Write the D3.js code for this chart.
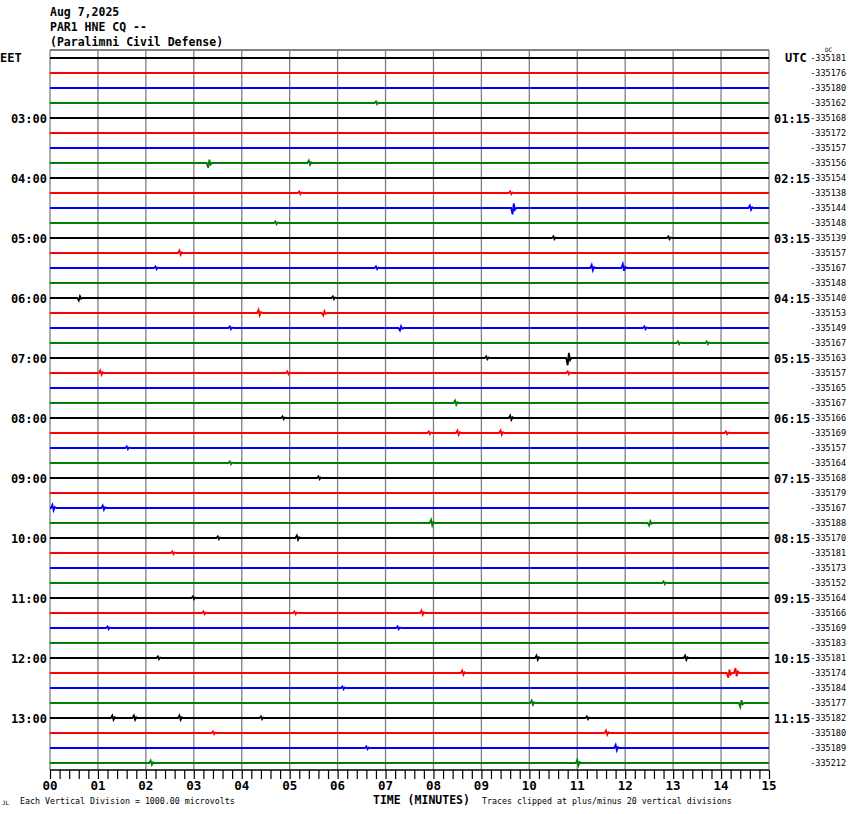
<!DOCTYPE html>
<html><head><meta charset="utf-8">
<script src="https://cdn.jsdelivr.net/npm/d3@7"></script>
<style>body{margin:0;background:#fff}svg{display:block}</style>
</head><body>
<script>
// ---------- DATA ----------
const titleLines = ["Aug 7,2025", "PAR1 HNE CQ --", "(Paralimni Civil Defense)"];
const leftTimes = ["03:00","04:00","05:00","06:00","07:00","08:00","09:00","10:00","11:00","12:00","13:00"];
const rightTimes = ["01:15","02:15","03:15","04:15","05:15","06:15","07:15","08:15","09:15","10:15","11:15"];
const dcValues = [-335181,-335176,-335180,-335162,-335168,-335172,-335157,-335156,
  -335154,-335138,-335144,-335148,-335139,-335157,-335167,-335148,
  -335140,-335153,-335149,-335167,-335163,-335157,-335165,-335167,
  -335166,-335169,-335157,-335164,-335168,-335179,-335167,-335188,
  -335170,-335181,-335173,-335152,-335164,-335166,-335169,-335183,
  -335181,-335174,-335184,-335177,-335182,-335180,-335189,-335212];
const minuteLabels = ["00","01","02","03","04","05","06","07","08","09","10","11","12","13","14","15"];
const traceColors = ["#000000","#ff0000","#0000ff","#007f00"];
// events: [row, minute, amplitude in vertical divisions (+ up)]
const events = [
  [3,6.8,1],[7,3.3,-3],[7,5.4,1.5],[9,5.2,1],[9,9.6,1],[10,9.65,-4],[10,14.6,1.5],[11,4.7,1],
  [12,10.5,1],[12,12.9,1],[13,2.7,1.5],[14,2.2,1],[14,6.8,1],[14,11.3,2],[14,11.95,2.5],
  [16,0.6,-1.5],[16,5.9,1],[17,4.35,2],[17,5.7,-1.5],[18,3.75,1],[18,7.3,-1.5],[18,12.4,1],
  [19,13.1,1],[19,13.7,1],[20,10.8,-4.5],[20,9.1,1],[21,1.05,1.5],[21,4.95,1],[21,10.8,1],
  [23,8.45,1.5],[24,4.85,1],[24,9.6,1.5],[25,7.9,1],[25,8.5,1.5],[25,9.4,1.5],[25,14.1,1],
  [26,1.6,1],[27,3.75,1],[28,5.6,1],[30,0.05,2],[30,1.1,1.5],[31,7.95,2],[31,12.5,-1.5],
  [32,3.5,1],[32,5.15,1.5],[33,2.55,1],[35,12.8,1],[36,2.98,1],[37,3.2,1],[37,5.1,1],[37,7.75,1.5],
  [38,1.2,1],[38,7.25,1],[40,2.25,1],[40,10.15,1.5],[40,13.25,1.5],[41,8.6,1.5],[41,14.15,-3],[41,14.3,3],
  [42,6.1,1],[43,10.05,1.5],[43,14.4,-2.5],[44,1.3,1.5],[44,1.75,1.5],[44,2.7,1.5],[44,4.4,1],[44,11.2,1],
  [45,3.4,1],[45,11.6,1.5],[46,6.6,1],[46,11.8,2],[47,2.1,1.5],[47,11.0,2]
];

// ---------- CHART ----------
const W = 850, H = 814;
const svg = d3.select("body").append("svg").attr("width", W).attr("height", H);
const nRows = dcValues.length;
const x = d3.scaleLinear().domain([0, 15]).range([50, 769]);
const y = d3.scaleLinear().domain([0, nRows - 1]).range([58, 763]);
const amp = d3.scaleLinear().domain([0, 1]).range([0, 1.6]); // px per division

const mono = "'DejaVu Sans Mono', monospace";

// title
svg.append("g").selectAll("text").data(titleLines).join("text")
  .attr("x", 50).attr("y", (d, i) => 16 + i * 15)
  .attr("font-family", mono).attr("font-weight", "bold").attr("font-size", 11.5)
  .text(d => d);

// frame top
svg.append("line").attr("x1", x(0)).attr("x2", x(15)).attr("y1", 50).attr("y2", 50)
  .attr("stroke", "#000").attr("stroke-width", 1);

// vertical grid
svg.append("g").selectAll("line").data(d3.range(0, 16)).join("line")
  .attr("x1", d => x(d)).attr("x2", d => x(d)).attr("y1", 50).attr("y2", 770)
  .attr("stroke", "#808080").attr("stroke-width", 1.3);

// traces
const line = d3.line().x(d => x(d[0])).y(d => d[1]);
const rows = d3.range(nRows);
svg.append("g").selectAll("path").data(rows).join("path")
  .attr("fill", "none")
  .attr("stroke", r => traceColors[r % 4])
  .attr("stroke-width", 1.8)
  .attr("d", r => {
    const y0 = y(r);
    const ev = events.filter(e => e[0] === r).sort((a, b) => a[1] - b[1]);
    const pts = [[0, y0]];
    ev.forEach(e => {
      const a = amp(e[2]);
      pts.push([e[1] - 0.03, y0], [e[1], y0 - a], [e[1] + 0.025, y0 + a * 0.7], [e[1] + 0.05, y0 - a * 0.3], [e[1] + 0.08, y0]);
    });
    pts.push([15, y0]);
    return line(pts);
  });

// left / right time labels
svg.append("text").attr("x", 0).attr("y", y(0) + 4).attr("font-family", mono)
  .attr("font-weight", "bold").attr("font-size", 12).text("EET");
svg.append("text").attr("x", 785).attr("y", y(0) + 4).attr("font-family", mono)
  .attr("font-weight", "bold").attr("font-size", 12).text("UTC");
svg.append("g").selectAll("text").data(leftTimes).join("text")
  .attr("x", 47).attr("y", (d, i) => y(4 + i * 4) + 5).attr("text-anchor", "end")
  .attr("font-family", mono).attr("font-weight", "bold").attr("font-size", 12).text(d => d);
svg.append("g").selectAll("text").data(rightTimes).join("text")
  .attr("x", 774).attr("y", (d, i) => y(4 + i * 4) + 5)
  .attr("font-family", mono).attr("font-weight", "bold").attr("font-size", 12).text(d => d);
svg.append("g").selectAll("text").data(dcValues).join("text")
  .attr("x", 846).attr("y", (d, i) => y(i) + 3).attr("text-anchor", "end")
  .attr("font-family", mono).attr("font-size", 8.5).text(d => d);
svg.append("text").attr("x", 825).attr("y", 52).attr("font-family", mono)
  .attr("font-size", 6).text("DC");

// bottom axis
const axis = d3.axisBottom(x).tickValues(d3.range(0, 75.5).map(d => d / 5)).tickSize(9).tickFormat("");
const ag = svg.append("g").attr("transform", "translate(0,770)").call(axis);
ag.select(".domain").attr("stroke", "#000").attr("stroke-width", 1.3).attr("d", `M${x(0)},0H${x(15)}`);
ag.selectAll(".tick line").attr("stroke", "#000").attr("stroke-width", 1.2);
svg.append("g").selectAll("text").data(minuteLabels).join("text")
  .attr("x", (d, i) => x(i)).attr("y", 790).attr("text-anchor", "middle")
  .attr("font-family", mono).attr("font-weight", "bold").attr("font-size", 12.5).text(d => d);

svg.append("text").attr("x", 373).attr("y", 804).attr("font-family", mono)
  .attr("font-weight", "bold").attr("font-size", 11.5).text("TIME (MINUTES)");
svg.append("text").attr("x", 20).attr("y", 804).attr("font-family", mono)
  .attr("font-size", 8.3).text("Each Vertical Division = 1000.00 microvolts");
svg.append("text").attr("x", 482).attr("y", 804).attr("font-family", mono)
  .attr("font-size", 8.3).text("Traces clipped at plus/minus 20 vertical divisions");
svg.append("text").attr("x", 2).attr("y", 805).attr("font-family", mono)
  .attr("font-size", 6).text("JL");
</script>
</body></html>
